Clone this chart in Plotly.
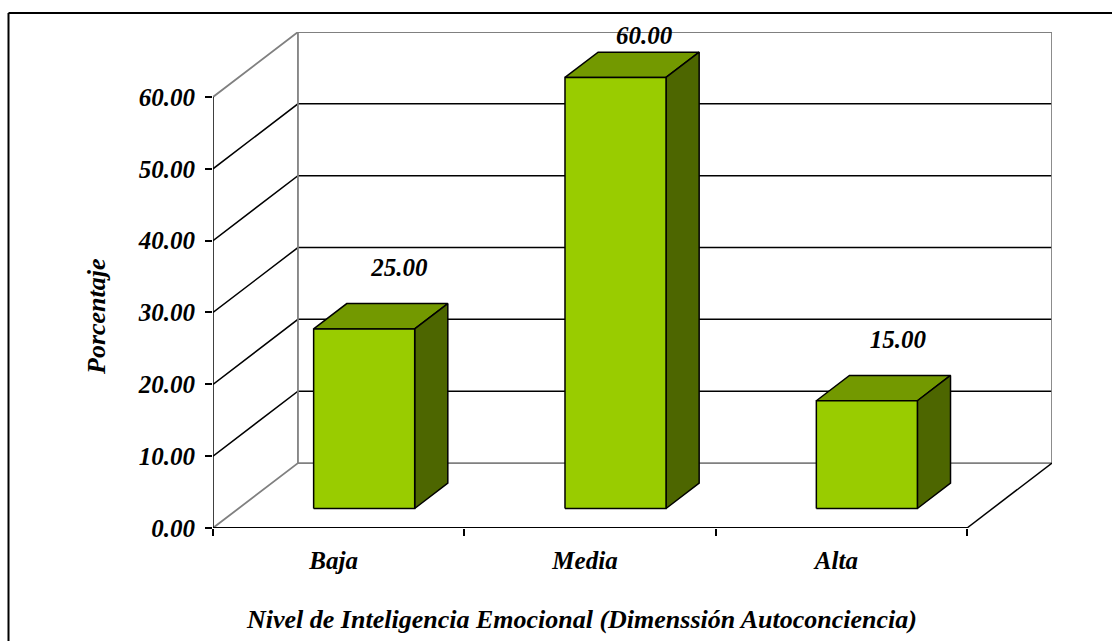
import plotly.graph_objects as go

categories = ["Baja", "Media", "Alta"]
values = [25.00, 60.00, 15.00]
y_ticks = [0, 10, 20, 30, 40, 50, 60]
y_tick_labels = ["0.00", "10.00", "20.00", "30.00", "40.00", "50.00", "60.00"]
x_title = "Nivel de Inteligencia Emocional (Dimenssión Autoconciencia)"
y_title = "Porcentaje"

FONT = "Liberation Serif"
W, H = 1112, 641
L, R, T, B = 213, 60, 32, 113
DX, DY = 0.338, 9.04          # chart depth in x-axis / y-axis units
BAR_W = 0.402
D0, D1 = 0.30, 0.69           # bar front / back in depth fractions
GRID = "#000000"
WALL = "#808080"
LW = 1.5
WALL_LW = 1.8
FRONT, TOP, SIDE = "#99CC00", "#739900", "#4D6600"
YMAX = 60 + DY
XMAX = 3 + DX
LABEL_NUDGE = [0.008, -0.018, -0.008]  # x-axis units


def pr(x, y, d=0.0):
    return x + d * DX, y + d * DY


def seg(points, color=GRID, width=LW, fill=None):
    xs = [p[0] for p in points]
    ys = [p[1] for p in points]
    return go.Scatter(
        x=xs, y=ys, mode="lines", cliponaxis=False, hoverinfo="skip", showlegend=False,
        line=dict(color=color, width=width),
        fill="toself" if fill else None, fillcolor=fill,
    )


fig = go.Figure()

# walls and gridlines
for v in y_ticks[1:-1]:
    fig.add_trace(seg([pr(0, v, 0), pr(0, v, 1), pr(3, v, 1)]))
fig.add_trace(seg([pr(0, 60, 0), pr(0, 60, 1), pr(3, 60, 1), pr(3, 0, 1), pr(0, 0, 1), pr(0, 0, 0)], WALL, WALL_LW))
fig.add_trace(seg([pr(0, 0, 1), pr(0, 60, 1)], WALL, WALL_LW))
fig.add_trace(seg([pr(3, 0, 0), pr(3, 0, 1)]))
fig.add_trace(seg([pr(0, 0, 0), pr(0, 60, 0)]))
fig.add_trace(seg([pr(0, 0, 0), pr(3, 0, 0)], width=1.8))

# 3-D bars
lab_x, lab_y = [], []
for i, v in enumerate(values):
    a, b = i + 0.5 - BAR_W / 2, i + 0.5 + BAR_W / 2
    fig.add_trace(seg([pr(a, v, D0), pr(b, v, D0), pr(b, v, D1), pr(a, v, D1), pr(a, v, D0)], fill=TOP))
    fig.add_trace(seg([pr(b, 0, D0), pr(b, 0, D1), pr(b, v, D1), pr(b, v, D0), pr(b, 0, D0)], fill=SIDE))
    fig.add_trace(seg([pr(a, 0, D0), pr(b, 0, D0), pr(b, v, D0), pr(a, v, D0), pr(a, 0, D0)], fill=FRONT))
    lx, ly = pr(i + 0.5, v, D1)
    lab_x.append(lx + LABEL_NUDGE[i])
    lab_y.append(min(ly + 4.65, YMAX - 0.85))

fig.add_trace(go.Scatter(
    x=lab_x, y=lab_y, mode="text", text=[f"{v:.2f}" for v in values],
    textposition="middle center", cliponaxis=False, hoverinfo="skip", showlegend=False,
    textfont=dict(family=FONT, size=25, color="#000000", weight="bold", style="italic"),
))
# invisible carrier for the category axis
fig.add_trace(go.Scatter(x=[0.5, 1.5, 2.5], y=[0, 0, 0], xaxis="x2", mode="none",
                         hoverinfo="skip", showlegend=False))

tickfont = dict(family=FONT, size=25, color="#000000", weight="bold", style="italic")
titlefont = dict(family=FONT, size=26, color="#000000", weight="bold", style="italic")
fig.update_layout(
    width=W, height=H, autosize=False,
    margin=dict(l=L, r=R, t=T, b=B, pad=0),
    paper_bgcolor="#FFFFFF", plot_bgcolor="#FFFFFF",
    showlegend=False,
    xaxis=dict(range=[0, XMAX], tickmode="array", tickvals=[0, 1, 2, 3], ticktext=["", "", "", ""],
               ticks="outside", ticklen=7, tickwidth=1.5, tickcolor="#000000",
               showgrid=False, zeroline=False, showline=False, fixedrange=True),
    xaxis2=dict(range=[0, XMAX], overlaying="x", side="bottom", anchor="y",
                tickmode="array", tickvals=[i + 0.48 for i in range(3)], ticktext=categories,
                ticks="outside", ticklen=10, tickwidth=0, tickcolor="rgba(0,0,0,0)", tickfont=tickfont,
                showgrid=False, zeroline=False, showline=False, fixedrange=True),
    yaxis=dict(range=[0, YMAX], tickmode="array", tickvals=y_ticks, ticktext=y_tick_labels,
               ticks="outside", ticklen=7, tickwidth=1.5, tickcolor="#000000", tickfont=tickfont,
               ticklabelstandoff=5,
               showgrid=False, zeroline=False, showline=False, fixedrange=True),
    annotations=[
        dict(text=x_title, xref="x", yref="paper", x=1.465, y=-0.185, yanchor="middle", xanchor="center",
             showarrow=False, font=titlefont),
        dict(text=y_title, xref="paper", yref="y", x=-0.138, y=29.4, textangle=-90, xanchor="center",
             yanchor="middle", showarrow=False, font=titlefont),
    ],
    shapes=[
        dict(type="line", xref="paper", yref="paper", x0=(8.5 - L) / (W - L - R), x1=(W - L) / (W - L - R),
             y0=(H - B - 13) / (H - B - T), y1=(H - B - 13) / (H - B - T), line=dict(color="#000000", width=2)),
        dict(type="line", xref="paper", yref="paper", x0=(8.5 - L) / (W - L - R), x1=(8.5 - L) / (W - L - R),
             y0=-B / (H - B - T), y1=(H - B - 13) / (H - B - T), line=dict(color="#000000", width=2)),
    ],
)

fig.write_html("out.html", config=dict(displayModeBar=False),
               post_script="document.body.style.margin='0';document.body.style.overflow='hidden';")
